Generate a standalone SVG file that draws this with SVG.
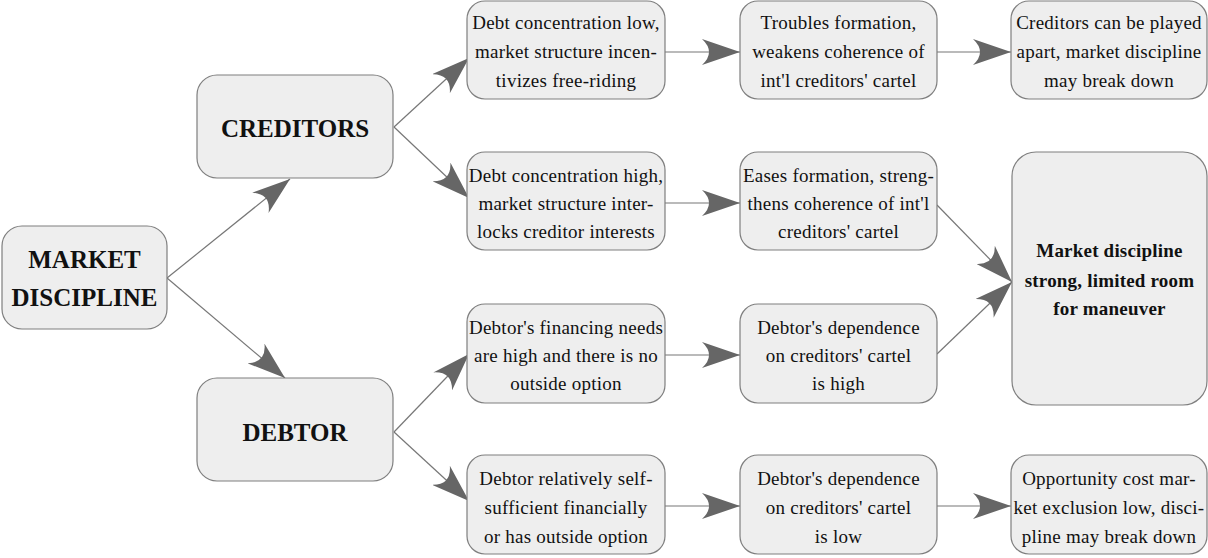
<svg xmlns="http://www.w3.org/2000/svg" width="1208" height="558" viewBox="0 0 1208 558" font-family="Liberation Serif, serif">
<style>
.box{fill:#eeeeee;stroke:#7f7f7f;stroke-width:1.2}
.t{font-size:19px;letter-spacing:0.25px;fill:#111;text-anchor:middle}
.b{font-weight:bold;fill:#111;text-anchor:middle}
.big{font-size:25px}
.mid{font-size:19px;letter-spacing:0.2px}
.c line{stroke:#777;stroke-width:1.2;fill:none;marker-end:url(#ah)}
</style>
<defs>
<marker id="ah" viewBox="0 0 38 26" refX="38" refY="13" markerWidth="38" markerHeight="26" markerUnits="userSpaceOnUse" orient="auto">
<path d="M38,13 L0,0 Q14,13 0,26 Z" fill="#666"/>
</marker>
</defs>
<rect width="1208" height="558" fill="#fff"/>
<g class="c" id="connectors">
<line x1="167" y1="278" x2="290" y2="179"/>
<line x1="167" y1="278" x2="285" y2="378"/>
<line x1="394" y1="127" x2="469" y2="58"/>
<line x1="394" y1="127" x2="469" y2="198"/>
<line x1="394" y1="432" x2="469" y2="354"/>
<line x1="394" y1="432" x2="469" y2="501"/>
<line x1="665" y1="52" x2="740" y2="52"/>
<line x1="937" y1="52" x2="1011" y2="52"/>
<line x1="665" y1="203" x2="740" y2="203"/>
<line x1="665" y1="355" x2="740" y2="355"/>
<line x1="665" y1="506" x2="740" y2="506"/>
<line x1="937" y1="506" x2="1011" y2="506"/>
<line x1="937" y1="205" x2="1012" y2="282"/>
<line x1="937" y1="354" x2="1012" y2="282"/>
</g>
<g id="market-discipline">
<rect class="box" x="2" y="226" width="165" height="103" rx="20"/>
<text class="b big" x="84.5" y="268">MARKET</text>
<text class="b big" x="84.5" y="306">DISCIPLINE</text>
</g>
<g id="creditors">
<rect class="box" x="197" y="75" width="196" height="103" rx="20"/>
<text class="b big" x="295" y="137">CREDITORS</text>
</g>
<g id="debtor">
<rect class="box" x="197" y="378" width="196" height="103" rx="20"/>
<text class="b big" x="295" y="441">DEBTOR</text>
</g>
<g id="c2r1">
<rect class="box" x="467" y="1" width="198" height="98" rx="18"/>
<text class="t" x="566" y="29">Debt concentration low,</text>
<text class="t" x="566" y="58">market structure incen-</text>
<text class="t" x="566" y="87">tivizes free-riding</text>
</g>
<g id="c2r2">
<rect class="box" x="467" y="152" width="198" height="98" rx="18"/>
<text class="t" x="566" y="182">Debt concentration high,</text>
<text class="t" x="566" y="210">market structure inter-</text>
<text class="t" x="566" y="238">locks creditor interests</text>
</g>
<g id="c2r3">
<rect class="box" x="467" y="304" width="198" height="99" rx="18"/>
<text class="t" x="566" y="334">Debtor's financing needs</text>
<text class="t" x="566" y="362">are high and there is no</text>
<text class="t" x="566" y="390">outside option</text>
</g>
<g id="c2r4">
<rect class="box" x="467" y="455" width="198" height="99" rx="18"/>
<text class="t" x="566" y="485">Debtor relatively self-</text>
<text class="t" x="566" y="514">sufficient financially</text>
<text class="t" x="566" y="543">or has outside option</text>
</g>
<g id="c3r1">
<rect class="box" x="740" y="1" width="197" height="98" rx="18"/>
<text class="t" x="838.5" y="29">Troubles formation,</text>
<text class="t" x="838.5" y="58">weakens coherence of</text>
<text class="t" x="838.5" y="87">int'l creditors' cartel</text>
</g>
<g id="c3r2">
<rect class="box" x="740" y="152" width="197" height="98" rx="18"/>
<text class="t" x="838.5" y="182">Eases formation, streng-</text>
<text class="t" x="838.5" y="210">thens coherence of int'l</text>
<text class="t" x="838.5" y="238">creditors' cartel</text>
</g>
<g id="c3r3">
<rect class="box" x="740" y="304" width="197" height="99" rx="18"/>
<text class="t" x="838.5" y="334">Debtor's dependence</text>
<text class="t" x="838.5" y="362">on creditors' cartel</text>
<text class="t" x="838.5" y="390">is high</text>
</g>
<g id="c3r4">
<rect class="box" x="740" y="455" width="197" height="99" rx="18"/>
<text class="t" x="838.5" y="485">Debtor's dependence</text>
<text class="t" x="838.5" y="514">on creditors' cartel</text>
<text class="t" x="838.5" y="543">is low</text>
</g>
<g id="c4r1">
<rect class="box" x="1011" y="1" width="196" height="98" rx="18"/>
<text class="t" x="1109" y="29">Creditors can be played</text>
<text class="t" x="1109" y="58">apart, market discipline</text>
<text class="t" x="1109" y="87">may break down</text>
</g>
<g id="c4big">
<rect class="box" x="1012" y="152" width="195" height="253" rx="24"/>
<text class="b mid" x="1109.5" y="257">Market discipline</text>
<text class="b mid" x="1109.5" y="287">strong, limited room</text>
<text class="b mid" x="1109.5" y="315">for maneuver</text>
</g>
<g id="c4r4">
<rect class="box" x="1011" y="455" width="196" height="99" rx="18"/>
<text class="t" x="1109" y="485">Opportunity cost mar-</text>
<text class="t" x="1109" y="514">ket exclusion low, disci-</text>
<text class="t" x="1109" y="543">pline may break down</text>
</g>
</svg>
